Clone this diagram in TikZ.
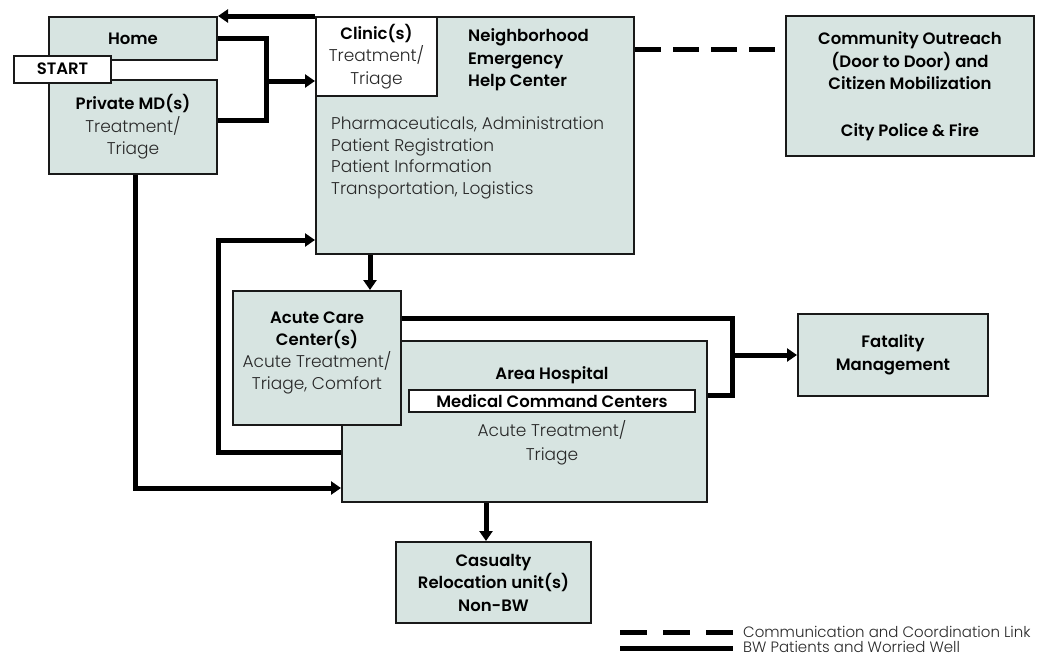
\documentclass[tikz,border=0pt]{standalone}
\usepackage{fontspec}
\setmainfont{Poppins}[UprightFont={* Light}, BoldFont={* SemiBold}]
\usetikzlibrary{arrows.meta}
\definecolor{boxfill}{RGB}{215,228,225}
\definecolor{lighttext}{RGB}{40,40,40}
\definecolor{edge}{RGB}{25,25,25}
\begin{document}
\begin{tikzpicture}[x=1pt,y=-1pt,
  box/.style={draw=edge, line width=2pt, fill=boxfill, inner sep=0pt, align=center, font=\fontsize{16.5}{22.5}\selectfont},
  wbox/.style={box, fill=white},
  bf/.style={font=\fontsize{16.5}{22.5}\selectfont\bfseries, text=black},
  lt/.style={font=\fontsize{17}{21.5}\selectfont, text=lighttext},
  conn/.style={line width=5pt, line join=miter},
  arr/.style={conn, -{Triangle[length=10pt,width=13pt]}},
  dashlink/.style={line width=5pt, dash pattern=on 26pt off 12pt},
  legtext/.style={font=\fontsize{15}{16}\selectfont, text=lighttext, anchor=west, inner sep=0pt},
]
\useasboundingbox[fill=white] (0,0) rectangle (1063,656);

% --- boxes ---
\node[box, minimum width=168pt, minimum height=43pt, bf] (home) at (133,38.5) {Home};
\node[box, minimum width=168pt, minimum height=94pt] (pmd) at (133,127)
  {{\bfseries Private MD(s)}\\{\fontsize{17}{22.5}\selectfont\color{lighttext}Treatment/}\\{\fontsize{17}{22.5}\selectfont\color{lighttext}Triage}};
\node[wbox, minimum width=97pt, minimum height=27pt, bf] (start) at (62.5,69) {START};

\node[box, minimum width=318pt, minimum height=237pt] (neigh) at (475,135.5) {};
\node[wbox, minimum width=121pt, minimum height=79pt] (clinic) at (376.5,56.5)
  {{\bfseries Clinic(s)}\\{\fontsize{17}{22.5}\selectfont\color{lighttext}Treatment/}\\{\fontsize{17}{22.5}\selectfont\color{lighttext}Triage}};
\node[bf, align=left, anchor=west, inner sep=0pt] (neightitle) at (468,60)
  {Neighborhood\\Emergency\\Help Center};
\node[lt, align=left, anchor=west, inner sep=0pt] (neighlist) at (331,158)
  {Pharmaceuticals, Administration\\Patient Registration\\Patient Information\\Transportation, Logistics};

\node[box, minimum width=248pt, minimum height=140pt, bf] (community) at (910,86)
  {Community Outreach\\(Door to Door) and\\Citizen Mobilization\\[24pt]City Police \& Fire};

\node[box, minimum width=365pt, minimum height=161pt] (hosp) at (524.5,421.5) {};
\node[bf] (hosptitle) at (552,375) {Area Hospital};
\node[wbox, minimum width=286pt, minimum height=22pt, bf] (mcc) at (552,401) {Medical Command Centers};
\node[lt, align=center] (hosptext) at (552,443) {Acute Treatment/\\[2pt]Triage};

\node[box, minimum width=168pt, minimum height=134pt] (acute) at (317,358) {};
\node[align=center, font=\fontsize{16.5}{22}\selectfont] (acutetext) at (317,353)
  {{\bfseries Acute Care}\\{\bfseries Center(s)}\\{\fontsize{17}{22}\selectfont\color{lighttext}Acute Treatment/}\\{\fontsize{17}{22}\selectfont\color{lighttext}Triage, Comfort}};

\node[box, minimum width=190pt, minimum height=82pt, bf] (fatal) at (893,355) {Fatality\\Management};
\node[box, minimum width=195pt, minimum height=81pt, bf] (casualty) at (493.5,582.5)
  {Casualty\\Relocation unit(s)\\Non-BW};

% --- connectors ---
\draw[arr] (neigh.north west) -- (home.north east);
\coordinate (jmerge) at (266,81);
\draw[conn] (home.east) -| (jmerge);
\draw[conn] (pmd.east |- 0,120) -| (jmerge);
\draw[arr] (jmerge) -- (jmerge -| clinic.west);

\coordinate (loopcorner) at (218,240);
\draw[arr] (hosp.west |- 0,452) -| (loopcorner) -- (loopcorner -| neigh.west);

\coordinate (pmdcorner) at (135,488);
\draw[arr] (pmd.south -| pmdcorner) -- (pmdcorner) -- (pmdcorner -| hosp.west);

\draw[arr] (neigh.south -| 370,0) -- (acute.north -| 370,0);

\coordinate (fjoin) at (732,355);
\draw[conn] (acute.east |- 0,318) -| (fjoin);
\draw[conn] (hosp.east |- 0,395) -| (fjoin);
\draw[arr] (fjoin) -- (fatal.west);

\draw[arr] (hosp.south -| 486,0) -- (casualty.north -| 486,0);

\draw[dashlink] (neigh.east |- 0,49) -- (community.west |- 0,49);

% --- legend ---
\coordinate (legA) at (620,632);
\coordinate (legB) at (733,632);
\coordinate (legC) at (620,648);
\coordinate (legD) at (733,648);
\draw[line width=5pt, dash pattern=on 27pt off 16pt] (legA) -- (legB);
\draw[line width=5pt] (legC) -- (legD);
\node[legtext] (leg1) at (743,631.5) {Communication and Coordination Link};
\node[legtext] (leg2) at (743,646.5) {BW Patients and Worried Well};
\end{tikzpicture}
\end{document}
